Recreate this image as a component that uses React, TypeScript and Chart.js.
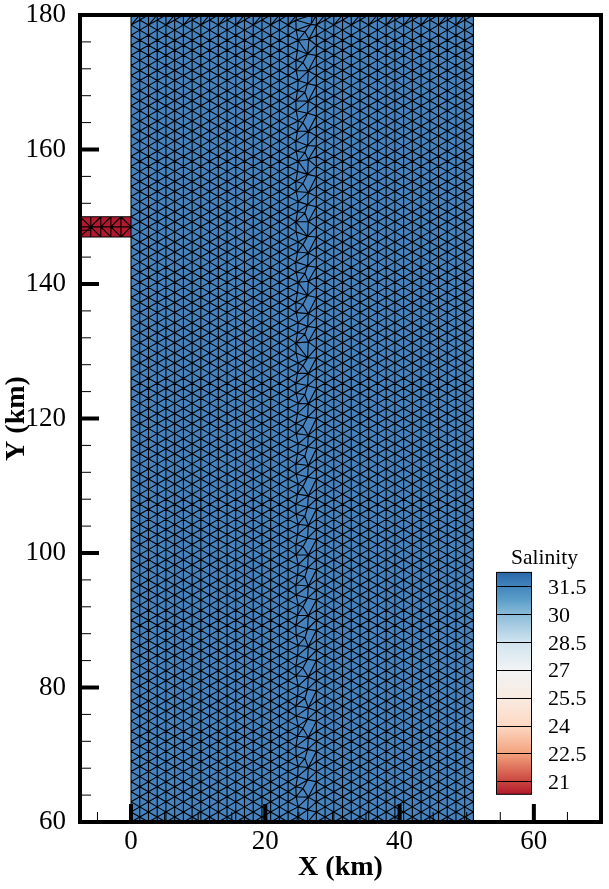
import React, { useEffect, useRef } from "react";
import { Chart, registerables } from "chart.js";

Chart.register(...registerables);

const FONT = "'Liberation Serif', 'Times New Roman', serif";

// Axis ticks (km)
const xTickValues = [-5, 0, 5, 10, 15, 20, 25, 30, 35, 40, 45, 50, 55, 60, 65, 70];
const xMajorTicks = [0, 20, 40, 60];
const yTickValues = [60, 64, 68, 72, 76, 80, 84, 88, 92, 96, 100, 104, 108, 112, 116, 120, 124, 128, 132, 136, 140, 144, 148, 152, 156, 160, 164, 168, 172, 176, 180];
const yMajorTicks = [60, 80, 100, 120, 140, 160, 180];

// Mesh columns (km): west and east of the seam
const westColumnsX = [0, 1.3, 2.6, 3.9, 5.2, 6.5, 7.8, 9.1, 10.4, 11.7, 13, 14.3, 15.6, 16.9, 18.2, 19.5, 20.8, 22.1, 23.4];
const seamWestColumnX = 24.7;
const seamWestWobble = [-0.15, 0.1, 0.2, -0.1];
const eastColumnsX = [27.6, 28.9, 30.2, 31.5, 32.8, 34.1, 35.4, 36.7, 38, 39.3, 40.6, 41.9, 43.2, 44.5, 45.8, 47.1, 48.4, 49.7, 51];

// Node heights (km) on alternating columns
const rowsEven = [60, 61.5, 63, 64.5, 66, 67.5, 69, 70.5, 72, 73.5, 75, 76.5, 78, 79.5, 81, 82.5, 84, 85.5, 87, 88.5, 90, 91.5, 93, 94.5, 96, 97.5, 99, 100.5, 102, 103.5, 105, 106.5, 108, 109.5, 111, 112.5, 114, 115.5, 117, 118.5, 120, 121.5, 123, 124.5, 126, 127.5, 129, 130.5, 132, 133.5, 135, 136.5, 138, 139.5, 141, 142.5, 144, 145.5, 147, 148.5, 150, 151.5, 153, 154.5, 156, 157.5, 159, 160.5, 162, 163.5, 165, 166.5, 168, 169.5, 171, 172.5, 174, 175.5, 177, 178.5, 180];
const rowsOdd = [60, 60.75, 62.25, 63.75, 65.25, 66.75, 68.25, 69.75, 71.25, 72.75, 74.25, 75.75, 77.25, 78.75, 80.25, 81.75, 83.25, 84.75, 86.25, 87.75, 89.25, 90.75, 92.25, 93.75, 95.25, 96.75, 98.25, 99.75, 101.25, 102.75, 104.25, 105.75, 107.25, 108.75, 110.25, 111.75, 113.25, 114.75, 116.25, 117.75, 119.25, 120.75, 122.25, 123.75, 125.25, 126.75, 128.25, 129.75, 131.25, 132.75, 134.25, 135.75, 137.25, 138.75, 140.25, 141.75, 143.25, 144.75, 146.25, 147.75, 149.25, 150.75, 152.25, 153.75, 155.25, 156.75, 158.25, 159.75, 161.25, 162.75, 164.25, 165.75, 167.25, 168.75, 170.25, 171.75, 173.25, 174.75, 176.25, 177.75, 179.25, 180];

// The irregular seam between the two mesh blocks (km): star nodes and the nodes set back between them
const seamY = [60, 61.8, 63.7, 66.25, 68.1, 70.8, 72.6, 75.3, 77, 79.75, 81.6, 84.2, 86.1, 88.7, 90.7, 93.3, 95.1, 97.8, 99.7, 102.2, 104.1, 106.8, 108.5, 111.3, 113, 115.8, 117.5, 120.2, 122.2, 124.9, 126.7, 129, 131.4, 133.7, 135.6, 138.3, 140.4, 142.7, 144.6, 147.1, 149.3, 151.8, 153.6, 156.3, 158.5, 160.6, 162.7, 165.4, 167.2, 169.8, 171.7, 174.2, 176.4, 178.6, 180];
const seamX = [26.3, 26.3, 26.4, 26.3, 26.4, 26.3, 26.4, 26.3, 26.4, 26.3, 26.4, 26.3, 26.4, 26.3, 26.4, 26.3, 26.4, 26.3, 26.4, 26.3, 26.4, 26.3, 26.4, 26.3, 26.4, 26.3, 26.4, 26.3, 26.4, 26.3, 26.4, 26.3, 26.4, 26.3, 26.4, 26.3, 26.4, 26.3, 26.4, 26.3, 26.4, 26.3, 26.4, 26.3, 26.4, 26.3, 26.4, 26.3, 26.4, 26.3, 26.4, 26.3, 26.5, 26.8, 27];
const seamBackY = [65, 69.45, 73.95, 78.4, 82.9, 87.4, 92, 96.45, 100.95, 105.45, 109.9, 114.4, 118.85, 123.55, 127.85, 132.55, 136.95, 141.55, 145.85, 150.55, 154.95, 159.55, 164, 168.5, 172.95, 177.5];
const seamBackX = [25.6, 25.9, 25.6, 25.9, 25.6, 25.9, 25.6, 25.9, 25.6, 25.9, 25.6, 25.9, 25.6, 25.9, 25.6, 25.9, 25.6, 25.9, 25.6, 25.9, 25.6, 25.9, 25.6, 25.9, 25.6, 25.9];

// River inlet mesh (km); diagonals: 1 rises to the right, -1 falls to the right
const inletColumnsX = [-7.6, -6, -4.5, -3, -1.5, 0];
const inletRowsY = [147, 148.5, 150];
const inletUpperDiagonals = [-1, 1, 1, 1, -1];
const inletLowerDiagonals = [1, -1, -1, -1, 1];

// Cell salinity colours
const oceanColor = "#4682BD";
const riverColor = "#B0192E";

// Colour bar
const legendTitle = "Salinity";
const legendLevels = [31.5, 30, 28.5, 27, 25.5, 24, 22.5, 21];
const legendLabels = ["31.5", "30", "28.5", "27", "25.5", "24", "22.5", "21"];
const legendStops: [number, string][] = [
  [32.25, "#2a66aa"], [31.5, "#4285bc"], [30.75, "#5c9fc9"], [30, "#8abbd9"], [28.5, "#d0e4ef"],
  [27, "#f1f3f5"], [25.5, "#f9ebe1"], [24, "#fdd9c4"], [22.5, "#f3a27c"], [21, "#c9463f"], [20.3, "#b2182b"],
];

type P = { x: number; y: number };

const GAP: P = { x: NaN, y: NaN };

function chain(xs: number, ys: number[]): P[] {
  return ys.map((y) => ({ x: xs, y }));
}

function stitch(a: P[], b: P[], out: P[]) {
  let i = 0;
  let j = 0;
  while (true) {
    out.push(a[i], b[j], GAP);
    if (i === a.length - 1 && j === b.length - 1) break;
    const na = i < a.length - 1 ? a[i + 1].y : Infinity;
    const nb = j < b.length - 1 ? b[j + 1].y : Infinity;
    if (na < nb) i++;
    else j++;
  }
}

function polyline(a: P[], out: P[]) {
  a.forEach((p) => out.push(p));
  out.push(GAP);
}

function buildMesh(): P[] {
  const out: P[] = [];
  const west: P[][] = westColumnsX.map((x, k) => chain(x, k % 2 === 0 ? rowsEven : rowsOdd));
  const seamWest: P[] = rowsOdd.map((y, i) => ({
    x: seamWestColumnX + (i === 0 || i === rowsOdd.length - 1 ? 0 : seamWestWobble[i % seamWestWobble.length]),
    y,
  }));
  const stars: P[] = seamX.map((x, i) => ({ x, y: seamY[i] }));
  const seamFull: P[] = [...stars, ...seamBackX.map((x, i) => ({ x, y: seamBackY[i] }))].sort((a, b) => a.y - b.y);
  const east: P[][] = eastColumnsX.map((x, k) => chain(x, k % 2 === 0 ? rowsEven : rowsOdd));

  west.forEach((c, i) => {
    polyline(c, out);
    stitch(c, i < west.length - 1 ? west[i + 1] : seamWest, out);
  });
  polyline(seamWest, out);
  stitch(seamWest, seamFull, out);
  polyline(seamFull, out);
  stitch(stars, east[0], out);
  east.forEach((c, i) => {
    polyline(c, out);
    if (i < east.length - 1) stitch(c, east[i + 1], out);
  });

  // inlet
  inletRowsY.forEach((y) => polyline(inletColumnsX.map((x) => ({ x, y })), out));
  inletColumnsX.forEach((x) => polyline(inletRowsY.map((y) => ({ x, y })), out));
  const diag = (row: number, ds: number[]) =>
    ds.forEach((d, k) => {
      const x0 = inletColumnsX[k];
      const x1 = inletColumnsX[k + 1];
      const y0 = inletRowsY[row];
      const y1 = inletRowsY[row + 1];
      polyline(d > 0 ? [{ x: x0, y: y0 }, { x: x1, y: y1 }] : [{ x: x0, y: y1 }, { x: x1, y: y0 }], out);
    });
  diag(1, inletUpperDiagonals);
  diag(0, inletLowerDiagonals);
  return out;
}

const framePlugin = {
  id: "tecplotFrame",
  afterDatasetsDraw(chart: any) {
    const { ctx, chartArea: a, scales } = chart;
    ctx.save();
    ctx.strokeStyle = "#000";
    ctx.lineCap = "butt";
    const tick = (x0: number, y0: number, x1: number, y1: number, w: number) => {
      ctx.lineWidth = w;
      ctx.beginPath();
      ctx.moveTo(x0, y0);
      ctx.lineTo(x1, y1);
      ctx.stroke();
    };
    xTickValues.forEach((v) => {
      const px = scales.x.getPixelForValue(v);
      const major = xMajorTicks.includes(v);
      tick(px, a.bottom, px, a.bottom - (major ? 18 : 10), major ? 4 : 1);
    });
    yTickValues.forEach((v) => {
      const py = scales.y.getPixelForValue(v);
      const major = yMajorTicks.includes(v);
      tick(a.left, py, a.left + (major ? 19 : 11), py, major ? 4 : 1);
    });
    ctx.lineWidth = 4;
    ctx.lineJoin = "miter";
    ctx.strokeRect(a.left, a.top, a.right - a.left, a.bottom - a.top);

    // colour bar
    const barL = 496.5;
    const barR = 531.5;
    const pyOf = (s: number) => 781.3 - (s - 21) * 18.57;
    const top = pyOf(32.25);
    const bottom = pyOf(20.3);
    const grad = ctx.createLinearGradient(0, top, 0, bottom);
    legendStops.forEach(([s, c]) => grad.addColorStop((pyOf(s) - top) / (bottom - top), c));
    ctx.fillStyle = grad;
    ctx.fillRect(barL, top, barR - barL, bottom - top);
    ctx.lineWidth = 1;
    legendLevels.forEach((s) => tick(barL, Math.round(pyOf(s)) + 0.5, barR, Math.round(pyOf(s)) + 0.5, 1));
    ctx.strokeRect(barL, top, barR - barL, bottom - top);
    ctx.fillStyle = "#000";
    ctx.textBaseline = "alphabetic";
    ctx.textAlign = "left";
    ctx.font = `21.5px ${FONT}`;
    ctx.fillText(legendTitle, 511, 564);
    ctx.font = `22px ${FONT}`;
    legendLevels.forEach((s, i) => ctx.fillText(legendLabels[i], 548, pyOf(s) + 7.5));
    ctx.restore();
  },
};

export default function App() {
  const ref = useRef<HTMLCanvasElement | null>(null);
  useEffect(() => {
    if (!ref.current) return;
    const chart = new Chart(ref.current, {
      type: "scatter",
      data: {
        datasets: [
          {
            label: "Mesh",
            data: buildMesh(),
            showLine: true,
            spanGaps: false,
            borderColor: "#000",
            borderWidth: 1.1,
            pointRadius: 0,
            order: 0,
          },
          {
            label: "Ocean",
            data: [{ x: 0, y: 180 }, { x: 51, y: 180 }],
            showLine: true,
            borderWidth: 0,
            pointRadius: 0,
            backgroundColor: oceanColor,
            fill: { value: 60 },
            order: 1,
          },
          {
            label: "River",
            data: [{ x: -7.6, y: 150 }, { x: 0, y: 150 }],
            showLine: true,
            borderWidth: 0,
            pointRadius: 0,
            backgroundColor: riverColor,
            fill: { value: 147 },
            order: 2,
          },
        ],
      } as any,
      options: {
        responsive: false,
        animation: false,
        layout: { padding: { top: 15, right: 8, left: 0, bottom: 0 } },
        plugins: { legend: { display: false }, tooltip: { enabled: false } },
        scales: {
          x: {
            type: "linear",
            min: -7.6,
            max: 70,
            grid: { display: false },
            border: { display: false },
            afterBuildTicks: (s: any) => { s.ticks = xTickValues.map((value) => ({ value })); },
            afterFit: (s: any) => { s.height = 67; s.paddingLeft = 0; s.paddingRight = 0; },
            ticks: {
              autoSkip: false,
              maxRotation: 0,
              padding: -4,
              color: "#000",
              font: { family: FONT, size: 27 },
              callback: (v: any) => (xMajorTicks.includes(Number(v)) ? String(v) : ""),
            },
            title: {
              display: true,
              text: "X (km)",
              color: "#000",
              font: { family: FONT, size: 28, weight: "bold" },
              padding: { top: 0, bottom: 4 },
            },
          },
          y: {
            type: "linear",
            min: 60,
            max: 180,
            grid: { display: false },
            border: { display: false },
            afterBuildTicks: (s: any) => { s.ticks = yTickValues.map((value) => ({ value })); },
            afterFit: (s: any) => { s.width = 80; s.paddingTop = 0; s.paddingBottom = 0; },
            ticks: {
              autoSkip: false,
              padding: 6,
              color: "#000",
              font: { family: FONT, size: 27 },
              callback: (v: any) => (yMajorTicks.includes(Number(v)) ? String(v) : ""),
            },
            title: {
              display: true,
              text: "Y (km)",
              color: "#000",
              font: { family: FONT, size: 28, weight: "bold" },
              padding: { top: 0, bottom: 0 },
            },
          },
        },
      },
      plugins: [framePlugin],
    } as any);
    return () => chart.destroy();
  }, []);
  return (
    <div style={{ position: "absolute", left: 0, top: 0, width: 609, height: 889 }}>
      <canvas ref={ref} width={609} height={889} style={{ display: "block" }} />
    </div>
  );
}
